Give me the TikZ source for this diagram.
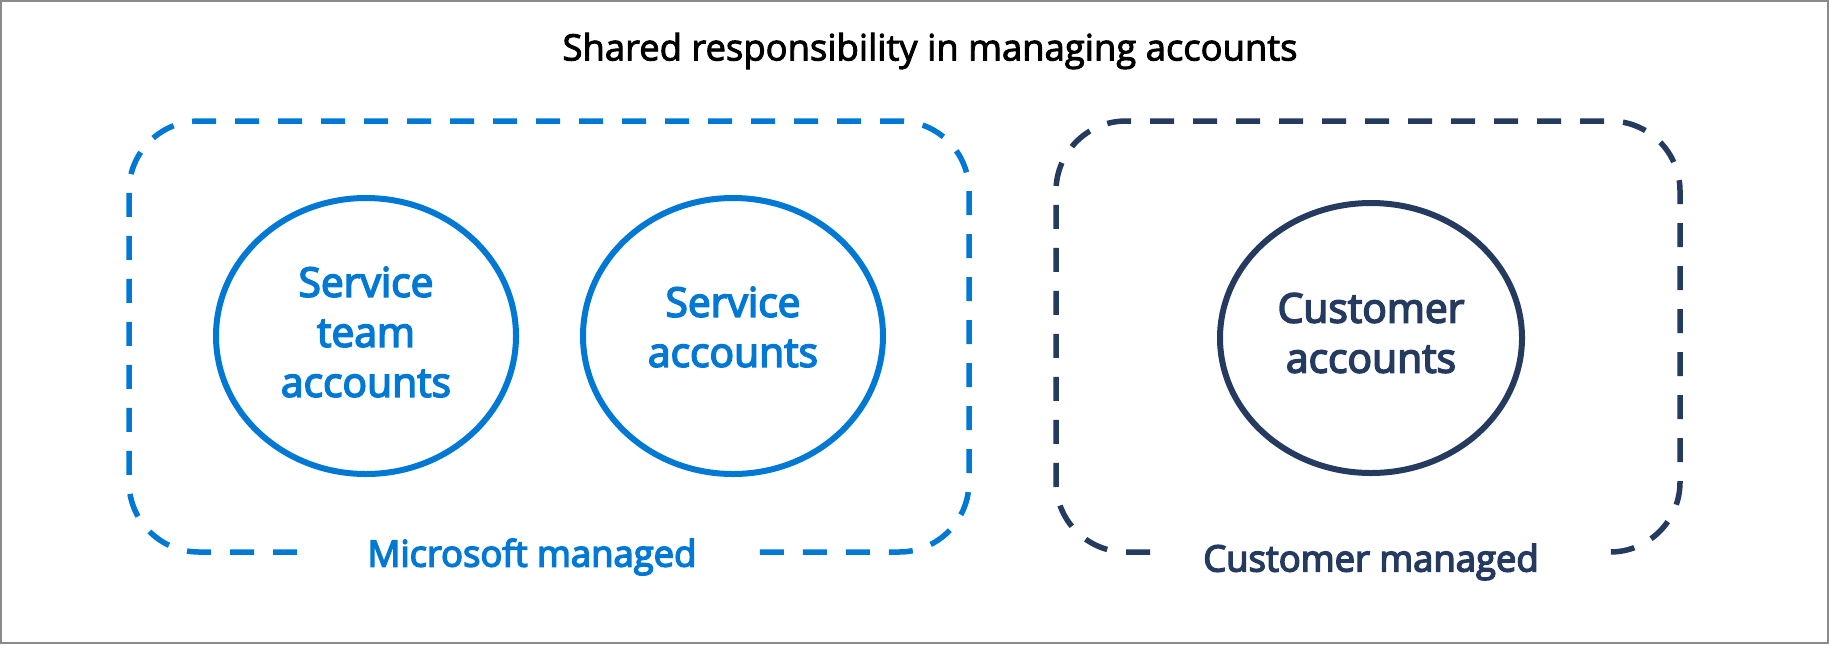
\documentclass[tikz,border=0pt]{standalone}
\usepackage{fontspec}
\setmainfont{Open Sans}[BoldFont={Open Sans}, BoldFeatures={FakeBold=4}]
\newfontfamily\titlefont{Open Sans}[FakeBold=2.5]
\usetikzlibrary{shapes.geometric}
\definecolor{msblue}{HTML}{0078D4}
\definecolor{navy}{HTML}{243A5E}
\definecolor{framegray}{HTML}{8A8A8A}
\newcommand{\drawzonebox}[7]{
    % Dashed rounded box, left open at the bottom for its label
    \draw[#7, line width=2.75pt, dash pattern=on 12pt off 9.5pt, rounded corners=35pt]
        (#5,#4) -- (#1,#4) -- (#1,#2) -- (#3,#2) -- (#3,#4) -- (#6,#4);
}
\tikzset{
    account/.style={ellipse, line width=3pt, inner sep=0pt},
    accounttext/.style={align=center, inner sep=0pt,
        font=\bfseries\fontsize{20.4}{25}\selectfont},
    zonelabel/.style={font=\bfseries\fontsize{18.2}{22}\selectfont}
}

\begin{document}
\begin{tikzpicture}[x=0.5pt, y=-0.5pt]
    \useasboundingbox (0,0) rectangle (1829,644);

    % Draw the frame
    \draw[framegray, line width=1pt] (1,1) rectangle (1828,643);

    % Title
    \node (title) at (930,51) {\titlefont\fontsize{18.2}{22}\selectfont Shared responsibility in managing accounts};

    % Microsoft managed zone
    \drawzonebox{129}{121}{969}{552}{297}{754}{msblue}
    \node[zonelabel, text=msblue] (msmanaged) at (532,557) {Microsoft managed};
    \node[account, draw=msblue, minimum width=150pt, minimum height=138pt] (teamacc) at (366,336) {};
    \node[accounttext, text=msblue] (teamacctext) at (366,332) {Service\\team\\accounts};
    \node[account, draw=msblue, minimum width=150pt, minimum height=138pt] (serviceacc) at (733,336) {};
    \node[accounttext, text=msblue] (serviceacctext) at (733,327) {Service\\accounts};

    % Customer managed zone
    \drawzonebox{1056}{121}{1680}{552}{1150}{1607}{navy}
    \node[zonelabel, text=navy] (custmanaged) at (1371,562) {Customer managed};
    \node[account, draw=navy, minimum width=151pt, minimum height=135pt] (customeracc) at (1371,338) {};
    \node[accounttext, text=navy] (customeracctext) at (1371,333) {Customer\\accounts};
\end{tikzpicture}
\end{document}
